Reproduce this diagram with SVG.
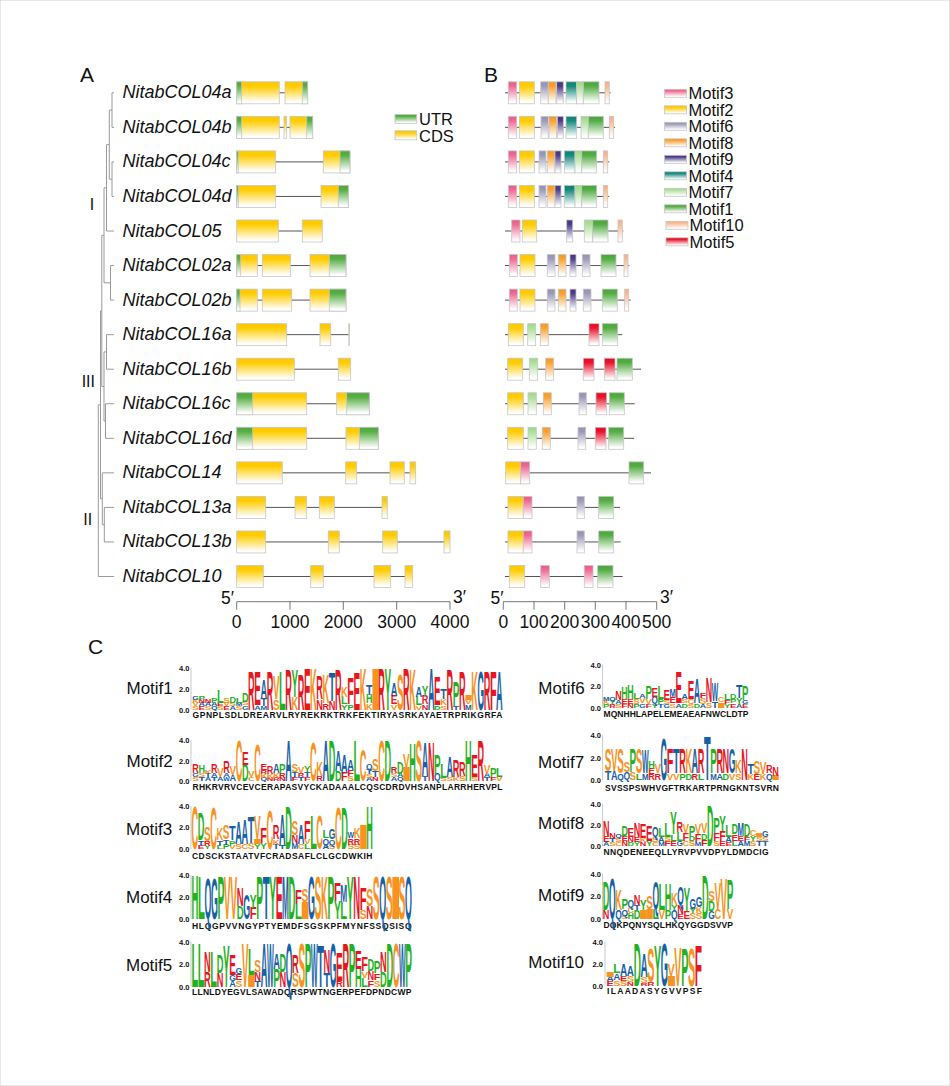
<svg xmlns="http://www.w3.org/2000/svg" width="950" height="1086" viewBox="0 0 950 1086">
<defs>
<style>
.t{font-family:"Liberation Sans",Arial,sans-serif;fill:#111}
.pn{font-size:21px}
.gn{font-size:18px;font-style:italic}
.lg{font-size:16.5px}
.ml{font-size:17px}
.ax{font-size:17.5px;text-anchor:middle}
.ap{font-size:17.5px}
.rn{font-size:16px;text-anchor:middle}
.tr{fill:none;stroke:#9a9a9a;stroke-width:1}
.in{fill:none;stroke:#555;stroke-width:1}
.axl{fill:none;stroke:#777;stroke-width:1}
.la{fill:none;stroke:#bbb;stroke-width:.8}
rect{stroke:#c6c6c6;stroke-width:.8}
.cds{fill:url(#gC)}.utr{fill:url(#gU)}
.m1{fill:url(#g1)}.m2{fill:url(#g2)}.m3{fill:url(#g3)}.m4{fill:url(#g4)}.m5{fill:url(#g5)}
.m6{fill:url(#g6)}.m7{fill:url(#g7)}.m8{fill:url(#g8)}.m9{fill:url(#g9)}.m10{fill:url(#g10)}
.lt{font-family:"Liberation Sans",Arial,sans-serif;font-weight:bold;font-size:15.3px}
.cr{fill:#e8161e}.cg{fill:#1fb323}.cb{fill:#1561a8}.co{fill:#f7931e}
.cs{font-family:"Liberation Sans",Arial,sans-serif;font-weight:bold;font-size:8.5px;fill:#111}
.yl{font-family:"Liberation Sans",Arial,sans-serif;font-weight:bold;font-size:7.5px;text-anchor:end;fill:#111}
</style>
<linearGradient id="gC" x1="0" y1="0" x2="0" y2="1"><stop offset="0" stop-color="#ffc800"/><stop offset=".2" stop-color="#ffcc00"/><stop offset=".92" stop-color="#fff"/></linearGradient>
<linearGradient id="gU" x1="0" y1="0" x2="0" y2="1"><stop offset="0" stop-color="#4ea83c"/><stop offset=".2" stop-color="#58ae46"/><stop offset=".92" stop-color="#fff"/></linearGradient>
<linearGradient id="g1" x1="0" y1="0" x2="0" y2="1"><stop offset="0" stop-color="#4aa63a"/><stop offset=".2" stop-color="#55ad45"/><stop offset=".92" stop-color="#fff"/></linearGradient>
<linearGradient id="g2" x1="0" y1="0" x2="0" y2="1"><stop offset="0" stop-color="#ffc800"/><stop offset=".2" stop-color="#ffcc00"/><stop offset=".92" stop-color="#fff"/></linearGradient>
<linearGradient id="g3" x1="0" y1="0" x2="0" y2="1"><stop offset="0" stop-color="#ec5a86"/><stop offset=".2" stop-color="#ef6a92"/><stop offset=".92" stop-color="#fff"/></linearGradient>
<linearGradient id="g4" x1="0" y1="0" x2="0" y2="1"><stop offset="0" stop-color="#0e8276"/><stop offset=".2" stop-color="#17897d"/><stop offset=".92" stop-color="#fff"/></linearGradient>
<linearGradient id="g5" x1="0" y1="0" x2="0" y2="1"><stop offset="0" stop-color="#e60a24"/><stop offset=".2" stop-color="#e8152d"/><stop offset=".92" stop-color="#fff"/></linearGradient>
<linearGradient id="g6" x1="0" y1="0" x2="0" y2="1"><stop offset="0" stop-color="#9491b2"/><stop offset=".2" stop-color="#9d9bb9"/><stop offset=".92" stop-color="#fff"/></linearGradient>
<linearGradient id="g7" x1="0" y1="0" x2="0" y2="1"><stop offset="0" stop-color="#a2d585"/><stop offset=".2" stop-color="#ade09a"/><stop offset=".92" stop-color="#fff"/></linearGradient>
<linearGradient id="g8" x1="0" y1="0" x2="0" y2="1"><stop offset="0" stop-color="#f7981f"/><stop offset=".2" stop-color="#f9a234"/><stop offset=".92" stop-color="#fff"/></linearGradient>
<linearGradient id="g9" x1="0" y1="0" x2="0" y2="1"><stop offset="0" stop-color="#45347f"/><stop offset=".2" stop-color="#4d3d8a"/><stop offset=".92" stop-color="#fff"/></linearGradient>
<linearGradient id="g10" x1="0" y1="0" x2="0" y2="1"><stop offset="0" stop-color="#f7ae80"/><stop offset=".2" stop-color="#f8b88e"/><stop offset=".92" stop-color="#fff"/></linearGradient>
<text id="kA" class="lt cb" x="-.2" textLength="6.6" lengthAdjust="spacingAndGlyphs">A</text>
<text id="kC" class="lt co" x="-.2" textLength="6.6" lengthAdjust="spacingAndGlyphs">C</text>
<text id="kD" class="lt cg" x="-.2" textLength="6.6" lengthAdjust="spacingAndGlyphs">D</text>
<text id="kE" class="lt cr" x="-.2" textLength="6.6" lengthAdjust="spacingAndGlyphs">E</text>
<text id="kF" class="lt cr" x="-.2" textLength="6.6" lengthAdjust="spacingAndGlyphs">F</text>
<text id="kG" class="lt cb" x="-.2" textLength="6.6" lengthAdjust="spacingAndGlyphs">G</text>
<text id="kH" class="lt cg" x="-.2" textLength="6.6" lengthAdjust="spacingAndGlyphs">H</text>
<text id="kI" class="lt co" x="-2.9" textLength="12.3" lengthAdjust="spacingAndGlyphs">I</text>
<text id="kK" class="lt co" x="-.2" textLength="6.6" lengthAdjust="spacingAndGlyphs">K</text>
<text id="kL" class="lt cg" x="-.2" textLength="6.6" lengthAdjust="spacingAndGlyphs">L</text>
<text id="kM" class="lt cb" x="-.2" textLength="6.6" lengthAdjust="spacingAndGlyphs">M</text>
<text id="kN" class="lt cr" x="-.2" textLength="6.6" lengthAdjust="spacingAndGlyphs">N</text>
<text id="kP" class="lt cg" x="-.2" textLength="6.6" lengthAdjust="spacingAndGlyphs">P</text>
<text id="kQ" class="lt cb" x="-.2" textLength="6.6" lengthAdjust="spacingAndGlyphs">Q</text>
<text id="kR" class="lt cr" x="-.2" textLength="6.6" lengthAdjust="spacingAndGlyphs">R</text>
<text id="kS" class="lt co" x="-.2" textLength="6.6" lengthAdjust="spacingAndGlyphs">S</text>
<text id="kT" class="lt cb" x="-.2" textLength="6.6" lengthAdjust="spacingAndGlyphs">T</text>
<text id="kV" class="lt co" x="-.2" textLength="6.6" lengthAdjust="spacingAndGlyphs">V</text>
<text id="kW" class="lt cb" x="-.2" textLength="6.6" lengthAdjust="spacingAndGlyphs">W</text>
<text id="kY" class="lt cg" x="-.2" textLength="6.6" lengthAdjust="spacingAndGlyphs">Y</text>
</defs>
<rect x="0" y="0" width="950" height="1086" fill="#fff" stroke="none"/>

<g id="labels" class="t">
<text class="pn" x="80" y="82">A</text>
<text class="pn" x="484" y="82">B</text>
<text class="pn" x="88" y="654">C</text>
<text class="rn" x="92" y="210">I</text>
<text class="rn" x="88.3" y="387">III</text>
<text class="rn" x="87.8" y="525">II</text>
</g>

<g id="connectors">
<path class="tr" d="M112 92.8H114M112 127.35H114M112 92.8V127.35M112 161.9H114M112 196.45H114M112 161.9V196.45M109.3 110.1H112M109.3 179.2H112M109.3 110.1V179.2M106.5 144.6H109.3M106.5 231H114M106.5 144.6V231M110.5 265.55H114M110.5 300.1H114M110.5 265.55V300.1M104 187.8H106.5M104 282.8H110.5M104 187.8V282.8M106.5 334.65H114M106.5 369.2H114M106.5 334.65V369.2M105.5 403.75H114M105.5 438.3H114M105.5 403.75V438.3M104 351.9H106.5M104 421H105.5M104 351.9V421M101.8 235.3H104M101.8 386.5H104M101.8 235.3V386.5M104.3 507.4H114M104.3 541.95H114M104.3 507.4V541.95M102.3 472.85H114M102.3 524.7H104.3M102.3 472.85V524.7M100.5 310.9H101.8M100.5 498.8H102.3M100.5 310.9V498.8M98.3 404.8H100.5M98.3 576.5H114M98.3 404.8V576.5"/>
</g>

<g id="legend-a" class="t">
<rect class="utr" x="395" y="114.5" width="21.7" height="9"/>
<rect class="cds" x="395" y="130.8" width="21.7" height="9"/>
<text class="lg" x="419" y="125">UTR</text>
<text class="lg" x="419" y="141.5">CDS</text>
</g>

<g id="legend-b" class="t">
<rect class="m3" x="664.5" y="89.3" width="22" height="8"/><text class="lg" x="688.5" y="99.2">Motif3</text>
<rect class="m2" x="664.5" y="105.8" width="22" height="8"/><text class="lg" x="688.5" y="115.7">Motif2</text>
<rect class="m6" x="664.5" y="122.3" width="22" height="8"/><text class="lg" x="688.5" y="132.2">Motif6</text>
<rect class="m8" x="664.5" y="138.8" width="22" height="8"/><text class="lg" x="688.5" y="148.7">Motif8</text>
<rect class="m9" x="664.5" y="155.3" width="22" height="8"/><text class="lg" x="688.5" y="165.2">Motif9</text>
<rect class="m4" x="664.5" y="171.8" width="22" height="8"/><text class="lg" x="688.5" y="181.7">Motif4</text>
<rect class="m7" x="664.5" y="188.3" width="22" height="8"/><text class="lg" x="688.5" y="198.2">Motif7</text>
<rect class="m1" x="664.5" y="204.8" width="22" height="8"/><text class="lg" x="688.5" y="214.7">Motif1</text>
<rect class="m10" x="666" y="221.3" width="22" height="8"/><text class="lg" x="689.5" y="231.2">Motif10</text>
<rect class="m5" x="666" y="237.8" width="22" height="8"/><text class="lg" x="689.5" y="247.7">Motif5</text>
</g>

<g id="NitabCOL04a" transform="translate(0,92.8)">
<text class="t gn" x="122.5" y="5.5">NitabCOL04a</text>
<path class="in" d="M236.7 0H307.7M505 0H610.7"/>
<rect class="cds" x="236.7" y="-11" width="42.6" height="22"/><rect class="cds" x="285" y="-11" width="22.7" height="22"/>
<rect class="utr" x="236.7" y="-11" width="5" height="22"/><rect class="utr" x="302.3" y="-11" width="5.4" height="22"/>
<rect class="m3" x="508.3" y="-11" width="8.4" height="22"/><rect class="m2" x="519.3" y="-11" width="15" height="22"/><rect class="m6" x="540.7" y="-11" width="7.6" height="22"/><rect class="m8" x="548.3" y="-11" width="7.7" height="22"/><rect class="m9" x="556.7" y="-11" width="6.6" height="22"/><rect class="m4" x="566" y="-11" width="10.7" height="22"/><rect class="m7" x="576.7" y="-11" width="6.6" height="22"/><rect class="m1" x="583.3" y="-11" width="15.7" height="22"/><rect class="m10" x="605" y="-11" width="4.3" height="22"/>
</g>
<g id="NitabCOL04b" transform="translate(0,127.35)">
<text class="t gn" x="122.5" y="5.5">NitabCOL04b</text>
<path class="in" d="M236.7 0H312.7M505 0H615"/>
<rect class="cds" x="236.7" y="-11" width="42.6" height="22"/><rect class="cds" x="284" y="-11" width="2.7" height="22"/><rect class="cds" x="290" y="-11" width="22.7" height="22"/>
<rect class="utr" x="236.7" y="-11" width="5" height="22"/><rect class="utr" x="306.7" y="-11" width="6" height="22"/>
<rect class="m3" x="508.3" y="-11" width="8.4" height="22"/><rect class="m2" x="519.3" y="-11" width="15" height="22"/><rect class="m6" x="541" y="-11" width="7.3" height="22"/><rect class="m8" x="549" y="-11" width="7.7" height="22"/><rect class="m9" x="557.3" y="-11" width="6" height="22"/><rect class="m4" x="566" y="-11" width="10.7" height="22"/><rect class="m7" x="581" y="-11" width="7.3" height="22"/><rect class="m1" x="588.3" y="-11" width="15" height="22"/><rect class="m10" x="609.3" y="-11" width="4.4" height="22"/>
</g>
<g id="NitabCOL04c" transform="translate(0,161.9)">
<text class="t gn" x="122.5" y="5.5">NitabCOL04c</text>
<path class="in" d="M236.7 0H350M505 0H609.3"/>
<rect class="cds" x="236.7" y="-11" width="39" height="22"/><rect class="cds" x="323.3" y="-11" width="26.7" height="22"/>
<rect class="utr" x="236.7" y="-11" width="1.6" height="22"/><rect class="utr" x="340" y="-11" width="10" height="22"/>
<rect class="m3" x="508.3" y="-11" width="8.4" height="22"/><rect class="m2" x="519.3" y="-11" width="15" height="22"/><rect class="m6" x="539" y="-11" width="7" height="22"/><rect class="m8" x="547.3" y="-11" width="7.7" height="22"/><rect class="m9" x="555" y="-11" width="6" height="22"/><rect class="m4" x="564.3" y="-11" width="10.7" height="22"/><rect class="m7" x="575" y="-11" width="6.7" height="22"/><rect class="m1" x="581.7" y="-11" width="15" height="22"/><rect class="m10" x="603.3" y="-11" width="4.4" height="22"/>
</g>
<g id="NitabCOL04d" transform="translate(0,196.45)">
<text class="t gn" x="122.5" y="5.5">NitabCOL04d</text>
<path class="in" d="M236.7 0H348.3M505 0H609.3"/>
<rect class="cds" x="236.7" y="-11" width="39" height="22"/><rect class="cds" x="321" y="-11" width="27.3" height="22"/>
<rect class="utr" x="236.7" y="-11" width="1.6" height="22"/><rect class="utr" x="338.3" y="-11" width="10" height="22"/>
<rect class="m3" x="508.3" y="-11" width="8.4" height="22"/><rect class="m2" x="519.3" y="-11" width="15" height="22"/><rect class="m6" x="539" y="-11" width="7" height="22"/><rect class="m8" x="547.3" y="-11" width="7.7" height="22"/><rect class="m9" x="555" y="-11" width="6" height="22"/><rect class="m4" x="564.3" y="-11" width="10.7" height="22"/><rect class="m7" x="575" y="-11" width="6.7" height="22"/><rect class="m1" x="581.7" y="-11" width="15" height="22"/><rect class="m10" x="603.3" y="-11" width="4.4" height="22"/>
</g>
<g id="NitabCOL05" transform="translate(0,231)">
<text class="t gn" x="122.5" y="5.5">NitabCOL05</text>
<path class="in" d="M236.7 0H322.3M505 0H623.3"/>
<rect class="cds" x="236.7" y="-11" width="41.6" height="22"/><rect class="cds" x="302.3" y="-11" width="20" height="22"/>
<rect class="m3" x="511.7" y="-11" width="8.3" height="22"/><rect class="m2" x="522.3" y="-11" width="14.4" height="22"/><rect class="m9" x="566.7" y="-11" width="6" height="22"/><rect class="m7" x="584.3" y="-11" width="8.4" height="22"/><rect class="m1" x="592.7" y="-11" width="15.3" height="22"/><rect class="m10" x="618" y="-11" width="4.3" height="22"/>
</g>
<g id="NitabCOL02a" transform="translate(0,265.55)">
<text class="t gn" x="122.5" y="5.5">NitabCOL02a</text>
<path class="in" d="M236.7 0H346M505 0H629.3"/>
<rect class="cds" x="236.7" y="-11" width="20.6" height="22"/><rect class="cds" x="262.3" y="-11" width="28.4" height="22"/><rect class="cds" x="310" y="-11" width="36" height="22"/>
<rect class="utr" x="236.7" y="-11" width="4" height="22"/><rect class="utr" x="329.3" y="-11" width="16.7" height="22"/>
<rect class="m3" x="509.3" y="-11" width="8" height="22"/><rect class="m2" x="520" y="-11" width="15" height="22"/><rect class="m6" x="547.3" y="-11" width="7.7" height="22"/><rect class="m8" x="558.3" y="-11" width="7.7" height="22"/><rect class="m9" x="570" y="-11" width="6" height="22"/><rect class="m6" x="582.3" y="-11" width="7.7" height="22"/><rect class="m1" x="601" y="-11" width="15" height="22"/><rect class="m10" x="624" y="-11" width="4" height="22"/>
</g>
<g id="NitabCOL02b" transform="translate(0,300.1)">
<text class="t gn" x="122.5" y="5.5">NitabCOL02b</text>
<path class="in" d="M236.7 0H346M505 0H630.7"/>
<rect class="cds" x="236.7" y="-11" width="20.6" height="22"/><rect class="cds" x="262.3" y="-11" width="29.4" height="22"/><rect class="cds" x="310" y="-11" width="36" height="22"/>
<rect class="utr" x="236.7" y="-11" width="3.3" height="22"/><rect class="utr" x="329.3" y="-11" width="16.7" height="22"/>
<rect class="m3" x="509.3" y="-11" width="8" height="22"/><rect class="m2" x="520" y="-11" width="15" height="22"/><rect class="m6" x="547.3" y="-11" width="7.7" height="22"/><rect class="m8" x="558.3" y="-11" width="7.7" height="22"/><rect class="m9" x="570" y="-11" width="6" height="22"/><rect class="m6" x="583.3" y="-11" width="7.7" height="22"/><rect class="m1" x="602.3" y="-11" width="15" height="22"/><rect class="m10" x="624.7" y="-11" width="4" height="22"/>
</g>
<g id="NitabCOL16a" transform="translate(0,334.65)">
<text class="t gn" x="122.5" y="5.5">NitabCOL16a</text>
<path class="in" d="M236.7 0H349.3M505 0H622.3"/>
<rect class="cds" x="236.7" y="-11" width="50" height="22"/><rect class="cds" x="320" y="-11" width="10.7" height="22"/><rect class="cds" x="348.8" y="-11" width=".8" height="22"/>
<rect class="m2" x="508.3" y="-11" width="15" height="22"/><rect class="m7" x="527.7" y="-11" width="8" height="22"/><rect class="m8" x="540.3" y="-11" width="8" height="22"/><rect class="m5" x="589" y="-11" width="10" height="22"/><rect class="m1" x="602.3" y="-11" width="15.4" height="22"/>
</g>
<g id="NitabCOL16b" transform="translate(0,369.2)">
<text class="t gn" x="122.5" y="5.5">NitabCOL16b</text>
<path class="in" d="M236.7 0H350.7M505 0H641"/>
<rect class="cds" x="236.7" y="-11" width="57.6" height="22"/><rect class="cds" x="338.3" y="-11" width="12.4" height="22"/>
<rect class="m2" x="507.7" y="-11" width="15" height="22"/><rect class="m7" x="529.3" y="-11" width="8.4" height="22"/><rect class="m8" x="545.7" y="-11" width="8" height="22"/><rect class="m5" x="583.3" y="-11" width="10.7" height="22"/><rect class="m5" x="604.3" y="-11" width="10.7" height="22"/><rect class="m1" x="617" y="-11" width="15.3" height="22"/>
</g>
<g id="NitabCOL16c" transform="translate(0,403.75)">
<text class="t gn" x="122.5" y="5.5">NitabCOL16c</text>
<path class="in" d="M236.7 0H369.3M505 0H634.7"/>
<rect class="cds" x="236.7" y="-11" width="70" height="22"/><rect class="cds" x="336.7" y="-11" width="32.6" height="22"/>
<rect class="utr" x="236.7" y="-11" width="16" height="22"/><rect class="utr" x="346.7" y="-11" width="22.6" height="22"/>
<rect class="m2" x="507.7" y="-11" width="15.6" height="22"/><rect class="m7" x="528" y="-11" width="8.3" height="22"/><rect class="m8" x="543.3" y="-11" width="8" height="22"/><rect class="m6" x="579" y="-11" width="7.3" height="22"/><rect class="m5" x="596" y="-11" width="10.7" height="22"/><rect class="m1" x="609.3" y="-11" width="15" height="22"/>
</g>
<g id="NitabCOL16d" transform="translate(0,438.3)">
<text class="t gn" x="122.5" y="5.5">NitabCOL16d</text>
<path class="in" d="M236.7 0H378.3M505 0H634"/>
<rect class="cds" x="236.7" y="-11" width="70" height="22"/><rect class="cds" x="346" y="-11" width="32.3" height="22"/>
<rect class="utr" x="236.7" y="-11" width="16" height="22"/><rect class="utr" x="359.3" y="-11" width="19" height="22"/>
<rect class="m2" x="507.7" y="-11" width="15.6" height="22"/><rect class="m7" x="528" y="-11" width="8.3" height="22"/><rect class="m8" x="542.3" y="-11" width="8" height="22"/><rect class="m6" x="578" y="-11" width="7.7" height="22"/><rect class="m5" x="595.3" y="-11" width="10.7" height="22"/><rect class="m1" x="608.7" y="-11" width="15" height="22"/>
</g>
<g id="NitabCOL14" transform="translate(0,472.85)">
<text class="t gn" x="122.5" y="5.5">NitabCOL14</text>
<path class="in" d="M236.7 0H415.7M505 0H651"/>
<rect class="cds" x="236.7" y="-11" width="45.6" height="22"/><rect class="cds" x="345.7" y="-11" width="11" height="22"/><rect class="cds" x="390" y="-11" width="14.3" height="22"/><rect class="cds" x="410" y="-11" width="5.7" height="22"/>
<rect class="m2" x="505.7" y="-11" width="15" height="22"/><rect class="m3" x="520.7" y="-11" width="9" height="22"/><rect class="m1" x="629" y="-11" width="14.7" height="22"/>
</g>
<g id="NitabCOL13a" transform="translate(0,507.4)">
<text class="t gn" x="122.5" y="5.5">NitabCOL13a</text>
<path class="in" d="M236.7 0H387.3M505 0H620"/>
<rect class="cds" x="236.7" y="-11" width="29" height="22"/><rect class="cds" x="295" y="-11" width="11.7" height="22"/><rect class="cds" x="319.3" y="-11" width="15" height="22"/><rect class="cds" x="382" y="-11" width="5.3" height="22"/>
<rect class="m2" x="508" y="-11" width="15.3" height="22"/><rect class="m3" x="523.3" y="-11" width="8.7" height="22"/><rect class="m6" x="577" y="-11" width="7.3" height="22"/><rect class="m1" x="598.7" y="-11" width="15" height="22"/>
</g>
<g id="NitabCOL13b" transform="translate(0,541.95)">
<text class="t gn" x="122.5" y="5.5">NitabCOL13b</text>
<path class="in" d="M236.7 0H450M505 0H620.7"/>
<rect class="cds" x="236.7" y="-11" width="29" height="22"/><rect class="cds" x="328.3" y="-11" width="11" height="22"/><rect class="cds" x="382.7" y="-11" width="14.6" height="22"/><rect class="cds" x="444" y="-11" width="6" height="22"/>
<rect class="m2" x="508" y="-11" width="15.3" height="22"/><rect class="m3" x="523.3" y="-11" width="8.7" height="22"/><rect class="m6" x="577" y="-11" width="7.3" height="22"/><rect class="m1" x="598.7" y="-11" width="15" height="22"/>
</g>
<g id="NitabCOL10" transform="translate(0,576.5)">
<text class="t gn" x="122.5" y="5.5">NitabCOL10</text>
<path class="in" d="M236.7 0H412.7M505 0H622.7"/>
<rect class="cds" x="236.7" y="-11" width="26.6" height="22"/><rect class="cds" x="310.7" y="-11" width="12.6" height="22"/><rect class="cds" x="374" y="-11" width="16.7" height="22"/><rect class="cds" x="405" y="-11" width="7.7" height="22"/>
<rect class="m2" x="509.3" y="-11" width="15.4" height="22"/><rect class="m3" x="540.7" y="-11" width="8.6" height="22"/><rect class="m3" x="584.3" y="-11" width="8.7" height="22"/><rect class="m1" x="597.7" y="-11" width="15.3" height="22"/>
</g>

<g id="axes" class="t">
<path class="axl" d="M236.7 601.7H450M236.7 601.7v8M290 601.7v8M343.3 601.7v8M396.7 601.7v8M450 601.7v8M503.3 601.7H656.7M503.3 601.7v8M534 601.7v8M564.7 601.7v8M595.3 601.7v8M626 601.7v8M656.7 601.7v8"/>
<text class="ax" x="236.7" y="628">0</text><text class="ax" x="290" y="628">1000</text><text class="ax" x="343.3" y="628">2000</text><text class="ax" x="396.7" y="628">3000</text><text class="ax" x="450" y="628">4000</text>
<text class="ax" x="503.3" y="628">0</text><text class="ax" x="534" y="628">100</text><text class="ax" x="564.7" y="628">200</text><text class="ax" x="595.3" y="628">300</text><text class="ax" x="626" y="628">400</text><text class="ax" x="656.7" y="628">500</text>
<text class="ap" x="221" y="604">5′</text><text class="ap" x="453" y="603">3′</text>
<text class="ap" x="490.5" y="604">5′</text><text class="ap" x="660" y="603">3′</text>
</g>

<g id="logo-axes">
<path class="la" d="M191 667.5V709.5M191 740V781M191 805.8V849M191 875V919M191 941.5V986.5M602.6 664.7V707.5M602.6 735.2V780M602.6 804V846M602.6 873.8V919M605 941.5V985.5"/>
<text class="yl" x="189.5" y="670.5">4.0</text><text class="yl" x="189.5" y="691.5">2.0</text><text class="yl" x="189.5" y="712.5">0.0</text>
<text class="yl" x="189.5" y="743">4.0</text><text class="yl" x="189.5" y="763.5">2.0</text><text class="yl" x="189.5" y="784">0.0</text>
<text class="yl" x="189.5" y="808.8">4.0</text><text class="yl" x="189.5" y="830.4">2.0</text><text class="yl" x="189.5" y="852">0.0</text>
<text class="yl" x="189.5" y="878">4.0</text><text class="yl" x="189.5" y="900">2.0</text><text class="yl" x="189.5" y="922">0.0</text>
<text class="yl" x="189.5" y="944.5">4.0</text><text class="yl" x="189.5" y="967">2.0</text><text class="yl" x="189.5" y="989.5">0.0</text>
<text class="yl" x="601" y="667.7">4.0</text><text class="yl" x="601" y="689.1">2.0</text><text class="yl" x="601" y="710.5">0.0</text>
<text class="yl" x="601" y="738.2">4.0</text><text class="yl" x="601" y="760.6">2.0</text><text class="yl" x="601" y="783">0.0</text>
<text class="yl" x="601" y="807">4.0</text><text class="yl" x="601" y="828">2.0</text><text class="yl" x="601" y="849">0.0</text>
<text class="yl" x="601" y="876.8">4.0</text><text class="yl" x="601" y="899.4">2.0</text><text class="yl" x="601" y="922">0.0</text>
<text class="yl" x="603" y="944.5">4.0</text><text class="yl" x="603" y="966.5">2.0</text><text class="yl" x="603" y="988.5">0.0</text>
</g>

<g id="motif-labels" class="t">
<text class="ml" x="126.5" y="694">Motif1</text>
<text class="ml" x="126.5" y="767">Motif2</text>
<text class="ml" x="126" y="835">Motif3</text>
<text class="ml" x="126" y="903">Motif4</text>
<text class="ml" x="126" y="971">Motif5</text>
<text class="ml" x="538.3" y="694">Motif6</text>
<text class="ml" x="538" y="768">Motif7</text>
<text class="ml" x="538" y="829">Motif8</text>
<text class="ml" x="538" y="901">Motif9</text>
<text class="ml" x="528.3" y="968">Motif10</text>
</g>

<g id="consensus">
<text class="cs" x="192.5" y="717.5" textLength="310" lengthAdjust="spacing">GPNPLSDLDREARVLRYREKRKTRKFEKTIRYASRKAYAETRPRIKGRFA</text>
<text class="cs" x="192.5" y="790" textLength="310" lengthAdjust="spacing">RHKRVRVCEVCERAPASVYCKADAAALCQSCDRDVHSANPLARRHERVPL</text>
<text class="cs" x="192" y="858.5" textLength="180.5" lengthAdjust="spacing">CDSCKSTAATVFCRADSAFLCLGCDWKIH</text>
<text class="cs" x="192" y="928.5" textLength="219.5" lengthAdjust="spacing">HLQGPVVNGYPTYEMDFSGSKPFMYNFSSQSISQ</text>
<text class="cs" x="192" y="994.5" textLength="219.5" lengthAdjust="spacing">LLNLDYEGVLSAWADQRSPWTNGERPEFDPNDCWP</text>
<text class="cs" x="603.5" y="716.5" textLength="145" lengthAdjust="spacing">MQNHHLAPELEMEAEAFNWCLDTP</text>
<text class="cs" x="605" y="791" textLength="174" lengthAdjust="spacing">SVSSPSWHVGFTRKARTPRNGKNTSVRN</text>
<text class="cs" x="603.5" y="855" textLength="165" lengthAdjust="spacing">NNQDENEEQLLYRVPVVDPYLDMDCIG</text>
<text class="cs" x="603.5" y="927.5" textLength="129.5" lengthAdjust="spacing">DQKPQNYSQLHKQYGGDSVVP</text>
<text class="cs" x="607" y="994" textLength="95" lengthAdjust="spacing">ILAADASYGVVPSF</text>
</g>

<g id="logo-motif1" transform="translate(192.5,709.5)">
<use href="#kS" transform="scale(1,.3)"/><use href="#kV" transform="translate(0,-3.15) scale(1,.3)"/><use href="#kK" transform="translate(0,-6.3) scale(1,.3)"/><use href="#kG" transform="translate(0,-9.45) scale(1,.35)"/>
<use href="#kE" transform="translate(6.2,0) scale(1,.3)"/><use href="#kA" transform="translate(6.2,-3.15) scale(1,.3)"/><use href="#kN" transform="translate(6.2,-6.3) scale(1,.3)"/><use href="#kP" transform="translate(6.2,-9.45) scale(1,.4)"/>
<use href="#kS" transform="translate(12.4,0) scale(1,.3)"/><use href="#kA" transform="translate(12.4,-3.15) scale(1,.3)"/><use href="#kN" transform="translate(12.4,-6.3) scale(1,.35)"/>
<use href="#kQ" transform="translate(18.6,0) scale(1,.3)"/><use href="#kA" transform="translate(18.6,-3.15) scale(1,.3)"/><use href="#kP" transform="translate(18.6,-6.3) scale(1,.5)"/>
<use href="#kS" transform="translate(24.8,0) scale(1,.3)"/><use href="#kE" transform="translate(24.8,-3.15) scale(1,.3)"/><use href="#kL" transform="translate(24.8,-6.3) scale(1,1.2)"/>
<use href="#kE" transform="translate(31,0) scale(1,.3)"/><use href="#kV" transform="translate(31,-3.15) scale(1,.3)"/><use href="#kS" transform="translate(31,-6.3) scale(1,.5)"/>
<use href="#kA" transform="translate(37.2,0) scale(1,.3)"/><use href="#kS" transform="translate(37.2,-3.15) scale(1,.3)"/><use href="#kD" transform="translate(37.2,-6.3) scale(1,.6)"/>
<use href="#kS" transform="translate(43.4,0) scale(1,.3)"/><use href="#kM" transform="translate(43.4,-3.15) scale(1,.3)"/><use href="#kL" transform="translate(43.4,-6.3) scale(1,.5)"/>
<use href="#kG" transform="translate(49.6,0) scale(1,.4)"/><use href="#kS" transform="translate(49.6,-4.2) scale(1,.3)"/><use href="#kD" transform="translate(49.6,-7.35) scale(1,.8)"/>
<use href="#kR" transform="translate(55.8,0) scale(1,3.6)"/>
<use href="#kA" transform="translate(62,0) scale(1,.4)"/><use href="#kE" transform="translate(62,-4.2) scale(1,3.1)"/>
<use href="#kM" transform="translate(68.2,0) scale(1,.3)"/><use href="#kT" transform="translate(68.2,-3.15) scale(1,.7)"/><use href="#kA" transform="translate(68.2,-10.5) scale(1,1.8)"/>
<use href="#kR" transform="translate(74.4,0) scale(1,3.6)"/>
<use href="#kS" transform="translate(80.6,0) scale(1,1)"/><use href="#kV" transform="translate(80.6,-10.5) scale(1,2.2)"/>
<use href="#kL" transform="translate(86.8,0) scale(1,3.6)"/>
<use href="#kR" transform="translate(93,0) scale(1,3.7)"/>
<use href="#kK" transform="translate(99.2,0) scale(1,1.2)"/><use href="#kY" transform="translate(99.2,-12.6) scale(1,2.5)"/>
<use href="#kR" transform="translate(105.4,0) scale(1,3.3)"/>
<use href="#kE" transform="translate(111.6,0) scale(1,3.9)"/>
<use href="#kK" transform="translate(117.8,0) scale(1,3.9)"/>
<use href="#kN" transform="translate(124,0) scale(1,1)"/><use href="#kR" transform="translate(124,-10.5) scale(1,2.2)"/>
<use href="#kR" transform="translate(130.2,0) scale(1,.6)"/><use href="#kK" transform="translate(130.2,-6.3) scale(1,2.7)"/>
<use href="#kN" transform="translate(136.4,0) scale(1,.8)"/><use href="#kT" transform="translate(136.4,-8.4) scale(1,2.6)"/>
<use href="#kR" transform="translate(142.6,0) scale(1,3.8)"/>
<use href="#kY" transform="translate(148.8,0) scale(1,.5)"/><use href="#kL" transform="translate(148.8,-5.25) scale(1,.7)"/><use href="#kK" transform="translate(148.8,-12.6) scale(1,1)"/>
<use href="#kP" transform="translate(155,0) scale(1,.5)"/><use href="#kF" transform="translate(155,-5.25) scale(1,2.4)"/>
<use href="#kE" transform="translate(161.2,0) scale(1,3.5)"/>
<use href="#kK" transform="translate(167.4,0) scale(1,3.9)"/>
<use href="#kK" transform="translate(173.6,0) scale(1,.6)"/><use href="#kH" transform="translate(173.6,-6.3) scale(1,.8)"/><use href="#kT" transform="translate(173.6,-14.7) scale(1,1)"/>
<use href="#kI" transform="translate(179.8,0) scale(1,3.9)"/>
<use href="#kR" transform="translate(186,0) scale(1,3.9)"/>
<use href="#kY" transform="translate(192.2,0) scale(1,3.9)"/>
<use href="#kV" transform="translate(198.4,0) scale(1,.5)"/><use href="#kE" transform="translate(198.4,-5.25) scale(1,.8)"/><use href="#kA" transform="translate(198.4,-13.65) scale(1,1.2)"/>
<use href="#kS" transform="translate(204.6,0) scale(1,3.3)"/>
<use href="#kR" transform="translate(210.8,0) scale(1,3.9)"/>
<use href="#kK" transform="translate(217,0) scale(1,3.7)"/>
<use href="#kV" transform="translate(223.2,0) scale(1,.4)"/><use href="#kL" transform="translate(223.2,-4.2) scale(1,.8)"/><use href="#kA" transform="translate(223.2,-12.6) scale(1,1)"/>
<use href="#kN" transform="translate(229.4,0) scale(1,.5)"/><use href="#kR" transform="translate(229.4,-5.25) scale(1,.8)"/><use href="#kY" transform="translate(229.4,-13.65) scale(1,1)"/>
<use href="#kA" transform="translate(235.6,0) scale(1,3.9)"/>
<use href="#kD" transform="translate(241.8,0) scale(1,.4)"/><use href="#kE" transform="translate(241.8,-4.2) scale(1,2.6)"/>
<use href="#kS" transform="translate(248,0) scale(1,.4)"/><use href="#kK" transform="translate(248,-4.2) scale(1,.6)"/><use href="#kT" transform="translate(248,-10.5) scale(1,1)"/>
<use href="#kR" transform="translate(254.2,0) scale(1,3.7)"/>
<use href="#kT" transform="translate(260.4,0) scale(1,.3)"/><use href="#kP" transform="translate(260.4,-3.15) scale(1,2.3)"/>
<use href="#kR" transform="translate(266.6,0) scale(1,3.6)"/>
<use href="#kM" transform="translate(272.8,0) scale(1,.5)"/><use href="#kV" transform="translate(272.8,-5.25) scale(1,.4)"/><use href="#kI" transform="translate(272.8,-9.45) scale(1,.5)"/>
<use href="#kK" transform="translate(279,0) scale(1,3.6)"/>
<use href="#kG" transform="translate(285.2,0) scale(1,3.6)"/>
<use href="#kR" transform="translate(291.4,0) scale(1,3.6)"/>
<use href="#kF" transform="translate(297.6,0) scale(1,3.6)"/>
<use href="#kA" transform="translate(303.8,0) scale(1,3.6)"/>
</g>

<g id="logo-motif2" transform="translate(192.5,781) scale(1,.976)">
<use href="#kS" transform="scale(1,.4)"/><use href="#kG" transform="translate(0,-4.2) scale(1,.4)"/><use href="#kR" transform="translate(0,-8.4) scale(1,.8)"/>
<use href="#kT" transform="translate(6.2,0) scale(1,.4)"/><use href="#kS" transform="translate(6.2,-4.2) scale(1,.4)"/><use href="#kH" transform="translate(6.2,-8.4) scale(1,.7)"/>
<use href="#kA" transform="translate(12.4,0) scale(1,.4)"/><use href="#kT" transform="translate(12.4,-4.2) scale(1,.3)"/><use href="#kK" transform="translate(12.4,-7.35) scale(1,.4)"/>
<use href="#kT" transform="translate(18.6,0) scale(1,.4)"/><use href="#kA" transform="translate(18.6,-4.2) scale(1,.4)"/><use href="#kR" transform="translate(18.6,-8.4) scale(1,.9)"/>
<use href="#kA" transform="translate(24.8,0) scale(1,.4)"/><use href="#kV" transform="translate(24.8,-4.2) scale(1,.9)"/>
<use href="#kW" transform="translate(31,0) scale(1,.4)"/><use href="#kA" transform="translate(31,-4.2) scale(1,.4)"/><use href="#kR" transform="translate(31,-8.4) scale(1,1.1)"/>
<use href="#kA" transform="translate(37.2,0) scale(1,.6)"/><use href="#kV" transform="translate(37.2,-6.3) scale(1,.8)"/>
<use href="#kC" transform="translate(43.4,0) scale(1,3.8)"/>
<use href="#kD" transform="translate(49.6,0) scale(1,1.6)"/><use href="#kE" transform="translate(49.6,-16.8) scale(1,1.2)"/>
<use href="#kC" transform="translate(55.8,0) scale(1,.4)"/><use href="#kV" transform="translate(55.8,-4.2) scale(1,.6)"/>
<use href="#kC" transform="translate(62,0) scale(1,3.5)"/>
<use href="#kQ" transform="translate(68.2,0) scale(1,.3)"/><use href="#kK" transform="translate(68.2,-3.15) scale(1,.4)"/><use href="#kR" transform="translate(68.2,-7.35) scale(1,.4)"/><use href="#kE" transform="translate(68.2,-11.55) scale(1,.6)"/>
<use href="#kN" transform="translate(74.4,0) scale(1,.3)"/><use href="#kK" transform="translate(74.4,-3.15) scale(1,.4)"/><use href="#kR" transform="translate(74.4,-7.35) scale(1,.7)"/>
<use href="#kR" transform="translate(80.6,0) scale(1,.3)"/><use href="#kK" transform="translate(80.6,-3.15) scale(1,.5)"/><use href="#kA" transform="translate(80.6,-8.4) scale(1,.8)"/>
<use href="#kN" transform="translate(86.8,0) scale(1,.3)"/><use href="#kR" transform="translate(86.8,-3.15) scale(1,.5)"/><use href="#kP" transform="translate(86.8,-8.4) scale(1,.9)"/>
<use href="#kA" transform="translate(93,0) scale(1,3.8)"/>
<use href="#kF" transform="translate(99.2,0) scale(1,.4)"/><use href="#kT" transform="translate(99.2,-4.2) scale(1,.5)"/><use href="#kS" transform="translate(99.2,-9.45) scale(1,.7)"/>
<use href="#kT" transform="translate(105.4,0) scale(1,.4)"/><use href="#kR" transform="translate(105.4,-4.2) scale(1,.4)"/><use href="#kV" transform="translate(105.4,-8.4) scale(1,.6)"/>
<use href="#kF" transform="translate(111.6,0) scale(1,.4)"/><use href="#kT" transform="translate(111.6,-4.2) scale(1,.5)"/><use href="#kY" transform="translate(111.6,-9.45) scale(1,.6)"/>
<use href="#kC" transform="translate(117.8,0) scale(1,3.7)"/>
<use href="#kR" transform="translate(124,0) scale(1,.5)"/><use href="#kK" transform="translate(124,-5.25) scale(1,1.3)"/>
<use href="#kA" transform="translate(130.2,0) scale(1,3.8)"/>
<use href="#kD" transform="translate(136.4,0) scale(1,3.9)"/>
<use href="#kD" transform="translate(142.6,0) scale(1,1)"/><use href="#kA" transform="translate(142.6,-10.5) scale(1,2)"/>
<use href="#kF" transform="translate(148.8,0) scale(1,.8)"/><use href="#kA" transform="translate(148.8,-8.4) scale(1,1.7)"/>
<use href="#kS" transform="translate(155,0) scale(1,.5)"/><use href="#kF" transform="translate(155,-5.25) scale(1,.6)"/><use href="#kA" transform="translate(155,-11.55) scale(1,1)"/>
<use href="#kL" transform="translate(161.2,0) scale(1,3.8)"/>
<use href="#kC" transform="translate(167.4,0) scale(1,3)"/>
<use href="#kA" transform="translate(173.6,0) scale(1,.3)"/><use href="#kS" transform="translate(173.6,-3.15) scale(1,.4)"/><use href="#kT" transform="translate(173.6,-7.35) scale(1,.5)"/><use href="#kQ" transform="translate(173.6,-12.6) scale(1,.5)"/>
<use href="#kN" transform="translate(179.8,0) scale(1,.4)"/><use href="#kT" transform="translate(179.8,-4.2) scale(1,.6)"/><use href="#kS" transform="translate(179.8,-10.5) scale(1,1.1)"/>
<use href="#kC" transform="translate(186,0) scale(1,3.9)"/>
<use href="#kD" transform="translate(192.2,0) scale(1,3.8)"/>
<use href="#kA" transform="translate(198.4,0) scale(1,.4)"/><use href="#kS" transform="translate(198.4,-4.2) scale(1,.4)"/><use href="#kR" transform="translate(198.4,-8.4) scale(1,.6)"/>
<use href="#kQ" transform="translate(204.6,0) scale(1,.4)"/><use href="#kA" transform="translate(204.6,-4.2) scale(1,.3)"/><use href="#kD" transform="translate(204.6,-7.35) scale(1,1.1)"/>
<use href="#kI" transform="translate(210.8,0) scale(1,1.3)"/><use href="#kV" transform="translate(210.8,-13.65) scale(1,1.3)"/>
<use href="#kH" transform="translate(217,0) scale(1,3.6)"/>
<use href="#kS" transform="translate(223.2,0) scale(1,3.8)"/>
<use href="#kT" transform="translate(229.4,0) scale(1,.5)"/><use href="#kA" transform="translate(229.4,-5.25) scale(1,3.2)"/>
<use href="#kN" transform="translate(235.6,0) scale(1,3.7)"/>
<use href="#kQ" transform="translate(241.8,0) scale(1,.7)"/><use href="#kP" transform="translate(241.8,-7.35) scale(1,1.9)"/>
<use href="#kS" transform="translate(248,0) scale(1,.3)"/><use href="#kL" transform="translate(248,-3.15) scale(1,1.3)"/>
<use href="#kS" transform="translate(254.2,0) scale(1,.4)"/><use href="#kA" transform="translate(254.2,-4.2) scale(1,2)"/>
<use href="#kK" transform="translate(260.4,0) scale(1,.4)"/><use href="#kR" transform="translate(260.4,-4.2) scale(1,1.6)"/>
<use href="#kS" transform="translate(266.6,0) scale(1,.5)"/><use href="#kR" transform="translate(266.6,-5.25) scale(1,1.4)"/>
<use href="#kH" transform="translate(272.8,0) scale(1,3.8)"/>
<use href="#kS" transform="translate(279,0) scale(1,.4)"/><use href="#kE" transform="translate(279,-4.2) scale(1,2.1)"/>
<use href="#kR" transform="translate(285.2,0) scale(1,3.8)"/>
<use href="#kT" transform="translate(291.4,0) scale(1,.4)"/><use href="#kA" transform="translate(291.4,-4.2) scale(1,.3)"/><use href="#kV" transform="translate(291.4,-7.35) scale(1,.8)"/>
<use href="#kF" transform="translate(297.6,0) scale(1,.4)"/><use href="#kP" transform="translate(297.6,-4.2) scale(1,.9)"/>
<use href="#kV" transform="translate(303.8,0) scale(1,.4)"/><use href="#kL" transform="translate(303.8,-4.2) scale(1,.8)"/>
</g>

<g id="logo-motif3" transform="translate(191.7,849) scale(1.007,1.03)">
<use href="#kC" transform="scale(1,3.9)"/>
<use href="#kE" transform="translate(6.2,0) scale(1,.3)"/><use href="#kT" transform="translate(6.2,-3.15) scale(1,.5)"/><use href="#kD" transform="translate(6.2,-8.4) scale(1,2.5)"/>
<use href="#kY" transform="translate(12.4,0) scale(1,.3)"/><use href="#kR" transform="translate(12.4,-3.15) scale(1,.4)"/><use href="#kS" transform="translate(12.4,-7.35) scale(1,1.3)"/>
<use href="#kC" transform="translate(18.6,0) scale(1,3.8)"/>
<use href="#kL" transform="translate(24.8,0) scale(1,.3)"/><use href="#kT" transform="translate(24.8,-3.15) scale(1,.5)"/><use href="#kK" transform="translate(24.8,-8.4) scale(1,1)"/>
<use href="#kP" transform="translate(31,0) scale(1,.4)"/><use href="#kT" transform="translate(31,-4.2) scale(1,.5)"/><use href="#kS" transform="translate(31,-9.45) scale(1,1.3)"/>
<use href="#kV" transform="translate(37.2,0) scale(1,.3)"/><use href="#kP" transform="translate(37.2,-3.15) scale(1,.5)"/><use href="#kT" transform="translate(37.2,-8.4) scale(1,1.3)"/>
<use href="#kS" transform="translate(43.4,0) scale(1,.5)"/><use href="#kA" transform="translate(43.4,-5.25) scale(1,2)"/>
<use href="#kC" transform="translate(49.6,0) scale(1,.5)"/><use href="#kA" transform="translate(49.6,-5.25) scale(1,2.2)"/>
<use href="#kS" transform="translate(55.8,0) scale(1,.6)"/><use href="#kT" transform="translate(55.8,-6.3) scale(1,2.4)"/>
<use href="#kY" transform="translate(62,0) scale(1,.5)"/><use href="#kI" transform="translate(62,-5.25) scale(1,.4)"/><use href="#kV" transform="translate(62,-9.45) scale(1,2.1)"/>
<use href="#kY" transform="translate(68.2,0) scale(1,.6)"/><use href="#kF" transform="translate(68.2,-6.3) scale(1,1.4)"/>
<use href="#kC" transform="translate(74.4,0) scale(1,3.5)"/>
<use href="#kT" transform="translate(80.6,0) scale(1,.4)"/><use href="#kK" transform="translate(80.6,-4.2) scale(1,.5)"/><use href="#kR" transform="translate(80.6,-9.45) scale(1,1.3)"/>
<use href="#kT" transform="translate(86.8,0) scale(1,.3)"/><use href="#kA" transform="translate(86.8,-3.15) scale(1,2.8)"/>
<use href="#kD" transform="translate(93,0) scale(1,3.9)"/>
<use href="#kM" transform="translate(99.2,0) scale(1,.6)"/><use href="#kN" transform="translate(99.2,-6.3) scale(1,.7)"/><use href="#kS" transform="translate(99.2,-13.65) scale(1,1.3)"/>
<use href="#kC" transform="translate(105.4,0) scale(1,.5)"/><use href="#kA" transform="translate(105.4,-5.25) scale(1,1.8)"/>
<use href="#kL" transform="translate(111.6,0) scale(1,.5)"/><use href="#kV" transform="translate(111.6,-5.25) scale(1,.4)"/><use href="#kF" transform="translate(111.6,-9.45) scale(1,1.6)"/>
<use href="#kL" transform="translate(117.8,0) scale(1,3)"/>
<use href="#kC" transform="translate(124,0) scale(1,3)"/>
<use href="#kA" transform="translate(130.2,0) scale(1,.4)"/><use href="#kQ" transform="translate(130.2,-4.2) scale(1,.6)"/><use href="#kL" transform="translate(130.2,-10.5) scale(1,.7)"/>
<use href="#kS" transform="translate(136.4,0) scale(1,.4)"/><use href="#kQ" transform="translate(136.4,-4.2) scale(1,.5)"/><use href="#kG" transform="translate(136.4,-9.45) scale(1,.9)"/>
<use href="#kC" transform="translate(142.6,0) scale(1,3.8)"/>
<use href="#kD" transform="translate(148.8,0) scale(1,3.7)"/>
<use href="#kS" transform="translate(155,0) scale(1,.4)"/><use href="#kR" transform="translate(155,-4.2) scale(1,.6)"/><use href="#kW" transform="translate(155,-10.5) scale(1,.6)"/>
<use href="#kS" transform="translate(161.2,0) scale(1,.4)"/><use href="#kR" transform="translate(161.2,-4.2) scale(1,.6)"/><use href="#kK" transform="translate(161.2,-10.5) scale(1,.9)"/>
<use href="#kI" transform="translate(167.4,0) scale(1,2.2)"/>
<use href="#kH" transform="translate(173.6,0) scale(1,3.9)"/>
</g>

<g id="logo-motif4" transform="translate(191.7,919) scale(1.044,1.048)">
<use href="#kH" transform="scale(1,3.9)"/>
<use href="#kL" transform="translate(6.2,0) scale(1,3.8)"/>
<use href="#kQ" transform="translate(12.4,0) scale(1,3.6)"/>
<use href="#kG" transform="translate(18.6,0) scale(1,3.6)"/>
<use href="#kP" transform="translate(24.8,0) scale(1,3.8)"/>
<use href="#kV" transform="translate(31,0) scale(1,3.8)"/>
<use href="#kV" transform="translate(37.2,0) scale(1,3.8)"/>
<use href="#kD" transform="translate(43.4,0) scale(1,1.2)"/><use href="#kN" transform="translate(43.4,-12.6) scale(1,1.6)"/>
<use href="#kG" transform="translate(49.6,0) scale(1,2.2)"/>
<use href="#kF" transform="translate(55.8,0) scale(1,1)"/><use href="#kY" transform="translate(55.8,-10.5) scale(1,1.2)"/>
<use href="#kP" transform="translate(62,0) scale(1,3.8)"/>
<use href="#kT" transform="translate(68.2,0) scale(1,3.8)"/>
<use href="#kY" transform="translate(74.4,0) scale(1,3.8)"/>
<use href="#kE" transform="translate(80.6,0) scale(1,3.8)"/>
<use href="#kM" transform="translate(86.8,0) scale(1,3.8)"/>
<use href="#kD" transform="translate(93,0) scale(1,3.8)"/>
<use href="#kL" transform="translate(99.2,0) scale(1,1.4)"/><use href="#kF" transform="translate(99.2,-14.7) scale(1,1.3)"/>
<use href="#kI" transform="translate(105.4,0) scale(1,1.5)"/><use href="#kS" transform="translate(105.4,-15.75) scale(1,1.1)"/>
<use href="#kG" transform="translate(111.6,0) scale(1,3.8)"/>
<use href="#kS" transform="translate(117.8,0) scale(1,3.8)"/>
<use href="#kK" transform="translate(124,0) scale(1,3.8)"/>
<use href="#kP" transform="translate(130.2,0) scale(1,3.8)"/>
<use href="#kY" transform="translate(136.4,0) scale(1,1.6)"/><use href="#kF" transform="translate(136.4,-16.8) scale(1,1.6)"/>
<use href="#kL" transform="translate(142.6,0) scale(1,1.5)"/><use href="#kM" transform="translate(142.6,-15.75) scale(1,1.5)"/>
<use href="#kY" transform="translate(148.8,0) scale(1,3.8)"/>
<use href="#kN" transform="translate(155,0) scale(1,3.8)"/>
<use href="#kS" transform="translate(161.2,0) scale(1,.8)"/><use href="#kF" transform="translate(161.2,-8.4) scale(1,2)"/>
<use href="#kN" transform="translate(167.4,0) scale(1,1.2)"/><use href="#kS" transform="translate(167.4,-12.6) scale(1,1.5)"/>
<use href="#kS" transform="translate(173.6,0) scale(1,3.8)"/>
<use href="#kQ" transform="translate(179.8,0) scale(1,3.8)"/>
<use href="#kS" transform="translate(186,0) scale(1,3.8)"/>
<use href="#kI" transform="translate(192.2,0) scale(1,3.8)"/>
<use href="#kS" transform="translate(198.4,0) scale(1,3.8)"/>
<use href="#kQ" transform="translate(204.6,0) scale(1,3.8)"/>
</g>

<g id="logo-motif5" transform="translate(191.7,986.5) scale(1.014,1.07)">
<use href="#kL" transform="scale(1,3.9)"/>
<use href="#kL" transform="translate(6.2,0) scale(1,3.9)"/>
<use href="#kR" transform="translate(12.4,0) scale(1,1.3)"/><use href="#kN" transform="translate(12.4,-13.65) scale(1,1.8)"/>
<use href="#kL" transform="translate(18.6,0) scale(1,3)"/>
<use href="#kN" transform="translate(24.8,0) scale(1,1.2)"/><use href="#kD" transform="translate(24.8,-12.6) scale(1,1.6)"/>
<use href="#kY" transform="translate(31,0) scale(1,3.6)"/>
<use href="#kA" transform="translate(37.2,0) scale(1,.5)"/><use href="#kG" transform="translate(37.2,-5.25) scale(1,.5)"/><use href="#kE" transform="translate(37.2,-10.5) scale(1,1.8)"/>
<use href="#kS" transform="translate(43.4,0) scale(1,.6)"/><use href="#kE" transform="translate(43.4,-6.3) scale(1,.5)"/><use href="#kG" transform="translate(43.4,-11.55) scale(1,.5)"/>
<use href="#kV" transform="translate(49.6,0) scale(1,3.8)"/>
<use href="#kI" transform="translate(55.8,0) scale(1,1)"/><use href="#kL" transform="translate(55.8,-10.5) scale(1,2.2)"/>
<use href="#kT" transform="translate(62,0) scale(1,.5)"/><use href="#kN" transform="translate(62,-5.25) scale(1,.8)"/><use href="#kS" transform="translate(62,-13.65) scale(1,1)"/>
<use href="#kA" transform="translate(68.2,0) scale(1,3.9)"/>
<use href="#kW" transform="translate(74.4,0) scale(1,3.8)"/>
<use href="#kP" transform="translate(80.6,0) scale(1,1.6)"/><use href="#kA" transform="translate(80.6,-16.8) scale(1,1.4)"/>
<use href="#kN" transform="translate(86.8,0) scale(1,1.3)"/><use href="#kD" transform="translate(86.8,-13.65) scale(1,1.6)"/>
<use href="#kQ" transform="translate(93,0) scale(1,3.8)"/>
<use href="#kS" transform="translate(99.2,0) scale(1,1.2)"/><use href="#kR" transform="translate(99.2,-12.6) scale(1,1.6)"/>
<use href="#kS" transform="translate(105.4,0) scale(1,3.8)"/>
<use href="#kP" transform="translate(111.6,0) scale(1,3.8)"/>
<use href="#kW" transform="translate(117.8,0) scale(1,3.8)"/>
<use href="#kT" transform="translate(124,0) scale(1,3.6)"/>
<use href="#kT" transform="translate(130.2,0) scale(1,1.2)"/><use href="#kN" transform="translate(130.2,-12.6) scale(1,2)"/>
<use href="#kG" transform="translate(136.4,0) scale(1,3.8)"/>
<use href="#kR" transform="translate(142.6,0) scale(1,.5)"/><use href="#kE" transform="translate(142.6,-5.25) scale(1,2.5)"/>
<use href="#kR" transform="translate(148.8,0) scale(1,3.8)"/>
<use href="#kP" transform="translate(155,0) scale(1,3.8)"/>
<use href="#kH" transform="translate(161.2,0) scale(1,1.6)"/><use href="#kE" transform="translate(161.2,-16.8) scale(1,1.6)"/>
<use href="#kL" transform="translate(167.4,0) scale(1,.8)"/><use href="#kV" transform="translate(167.4,-8.4) scale(1,.6)"/><use href="#kF" transform="translate(167.4,-14.7) scale(1,1.2)"/>
<use href="#kF" transform="translate(173.6,0) scale(1,.6)"/><use href="#kN" transform="translate(173.6,-6.3) scale(1,.8)"/><use href="#kD" transform="translate(173.6,-14.7) scale(1,1)"/>
<use href="#kS" transform="translate(179.8,0) scale(1,.6)"/><use href="#kF" transform="translate(179.8,-6.3) scale(1,.6)"/><use href="#kP" transform="translate(179.8,-12.6) scale(1,1)"/>
<use href="#kD" transform="translate(186,0) scale(1,1.3)"/><use href="#kN" transform="translate(186,-13.65) scale(1,1.8)"/>
<use href="#kD" transform="translate(192.2,0) scale(1,3.8)"/>
<use href="#kC" transform="translate(198.4,0) scale(1,3.8)"/>
<use href="#kW" transform="translate(204.6,0) scale(1,3.8)"/>
<use href="#kP" transform="translate(210.8,0) scale(1,3.8)"/>
</g>

<g id="logo-motif6" transform="translate(603.3,707.5) scale(.974,1.02)">
<use href="#kP" transform="scale(1,.3)"/><use href="#kK" transform="translate(0,-3.15) scale(1,.3)"/><use href="#kM" transform="translate(0,-6.3) scale(1,.4)"/>
<use href="#kR" transform="translate(6.2,0) scale(1,.3)"/><use href="#kY" transform="translate(6.2,-3.15) scale(1,.3)"/><use href="#kQ" transform="translate(6.2,-6.3) scale(1,.4)"/>
<use href="#kS" transform="translate(12.4,0) scale(1,.3)"/><use href="#kA" transform="translate(12.4,-3.15) scale(1,.4)"/><use href="#kN" transform="translate(12.4,-7.35) scale(1,.8)"/>
<use href="#kF" transform="translate(18.6,0) scale(1,.3)"/><use href="#kE" transform="translate(18.6,-3.15) scale(1,.5)"/><use href="#kH" transform="translate(18.6,-8.4) scale(1,1.1)"/>
<use href="#kN" transform="translate(24.8,0) scale(1,.3)"/><use href="#kE" transform="translate(24.8,-3.15) scale(1,.5)"/><use href="#kH" transform="translate(24.8,-8.4) scale(1,1.3)"/>
<use href="#kP" transform="translate(31,0) scale(1,.3)"/><use href="#kS" transform="translate(31,-3.15) scale(1,.5)"/><use href="#kL" transform="translate(31,-8.4) scale(1,.6)"/>
<use href="#kG" transform="translate(37.2,0) scale(1,.4)"/><use href="#kV" transform="translate(37.2,-4.2) scale(1,.5)"/><use href="#kA" transform="translate(37.2,-9.45) scale(1,.4)"/>
<use href="#kF" transform="translate(43.4,0) scale(1,.3)"/><use href="#kV" transform="translate(43.4,-3.15) scale(1,.5)"/><use href="#kP" transform="translate(43.4,-8.4) scale(1,1.2)"/>
<use href="#kY" transform="translate(49.6,0) scale(1,.3)"/><use href="#kQ" transform="translate(49.6,-3.15) scale(1,.7)"/><use href="#kE" transform="translate(49.6,-10.5) scale(1,.8)"/>
<use href="#kT" transform="translate(55.8,0) scale(1,.3)"/><use href="#kP" transform="translate(55.8,-3.15) scale(1,.5)"/><use href="#kL" transform="translate(55.8,-8.4) scale(1,1.2)"/>
<use href="#kG" transform="translate(62,0) scale(1,.3)"/><use href="#kS" transform="translate(62,-3.15) scale(1,.4)"/><use href="#kE" transform="translate(62,-7.35) scale(1,.9)"/>
<use href="#kS" transform="translate(68.2,0) scale(1,.4)"/><use href="#kE" transform="translate(68.2,-4.2) scale(1,.6)"/><use href="#kM" transform="translate(68.2,-10.5) scale(1,.7)"/>
<use href="#kA" transform="translate(74.4,0) scale(1,.4)"/><use href="#kE" transform="translate(74.4,-4.2) scale(1,2.8)"/>
<use href="#kD" transform="translate(80.6,0) scale(1,.4)"/><use href="#kS" transform="translate(80.6,-4.2) scale(1,.4)"/><use href="#kA" transform="translate(80.6,-8.4) scale(1,.5)"/>
<use href="#kS" transform="translate(86.8,0) scale(1,.3)"/><use href="#kC" transform="translate(86.8,-3.15) scale(1,.5)"/><use href="#kE" transform="translate(86.8,-8.4) scale(1,1.6)"/>
<use href="#kD" transform="translate(93,0) scale(1,.4)"/><use href="#kA" transform="translate(93,-4.2) scale(1,2.2)"/>
<use href="#kA" transform="translate(99.2,0) scale(1,.3)"/><use href="#kS" transform="translate(99.2,-3.15) scale(1,.6)"/><use href="#kF" transform="translate(99.2,-9.45) scale(1,.5)"/>
<use href="#kS" transform="translate(105.4,0) scale(1,.5)"/><use href="#kN" transform="translate(105.4,-5.25) scale(1,2.2)"/>
<use href="#kT" transform="translate(111.6,0) scale(1,.6)"/><use href="#kW" transform="translate(111.6,-6.3) scale(1,1.7)"/>
<use href="#kI" transform="translate(117.8,0) scale(1,.5)"/><use href="#kC" transform="translate(117.8,-5.25) scale(1,.5)"/>
<use href="#kY" transform="translate(124,0) scale(1,.3)"/><use href="#kF" transform="translate(124,-3.15) scale(1,.4)"/><use href="#kL" transform="translate(124,-7.35) scale(1,.6)"/>
<use href="#kE" transform="translate(130.2,0) scale(1,.4)"/><use href="#kP" transform="translate(130.2,-4.2) scale(1,.4)"/><use href="#kD" transform="translate(130.2,-8.4) scale(1,.5)"/>
<use href="#kA" transform="translate(136.4,0) scale(1,.3)"/><use href="#kY" transform="translate(136.4,-3.15) scale(1,.6)"/><use href="#kT" transform="translate(136.4,-9.45) scale(1,1.2)"/>
<use href="#kE" transform="translate(142.6,0) scale(1,.3)"/><use href="#kG" transform="translate(142.6,-3.15) scale(1,.4)"/><use href="#kP" transform="translate(142.6,-7.35) scale(1,1.3)"/>
</g>

<g id="logo-motif7" transform="translate(605,780) scale(1,1.067)">
<use href="#kT" transform="scale(1,.8)"/><use href="#kS" transform="translate(0,-8.4) scale(1,1.9)"/>
<use href="#kA" transform="translate(6.2,0) scale(1,.8)"/><use href="#kV" transform="translate(6.2,-8.4) scale(1,1.9)"/>
<use href="#kQ" transform="translate(12.4,0) scale(1,.6)"/><use href="#kS" transform="translate(12.4,-6.3) scale(1,2.1)"/>
<use href="#kQ" transform="translate(18.6,0) scale(1,.7)"/><use href="#kS" transform="translate(18.6,-7.35) scale(1,.9)"/>
<use href="#kS" transform="translate(24.8,0) scale(1,.7)"/><use href="#kP" transform="translate(24.8,-7.35) scale(1,2)"/>
<use href="#kL" transform="translate(31,0) scale(1,.6)"/><use href="#kS" transform="translate(31,-6.3) scale(1,2.1)"/>
<use href="#kM" transform="translate(37.2,0) scale(1,.6)"/><use href="#kW" transform="translate(37.2,-6.3) scale(1,2)"/>
<use href="#kR" transform="translate(43.4,0) scale(1,.5)"/><use href="#kE" transform="translate(43.4,-5.25) scale(1,.5)"/><use href="#kH" transform="translate(43.4,-10.5) scale(1,.7)"/>
<use href="#kR" transform="translate(49.6,0) scale(1,.6)"/><use href="#kV" transform="translate(49.6,-6.3) scale(1,.8)"/>
<use href="#kG" transform="translate(55.8,0) scale(1,3.6)"/>
<use href="#kV" transform="translate(62,0) scale(1,.6)"/><use href="#kF" transform="translate(62,-6.3) scale(1,2.1)"/>
<use href="#kV" transform="translate(68.2,0) scale(1,.6)"/><use href="#kT" transform="translate(68.2,-6.3) scale(1,2.1)"/>
<use href="#kP" transform="translate(74.4,0) scale(1,.6)"/><use href="#kR" transform="translate(74.4,-6.3) scale(1,2.1)"/>
<use href="#kD" transform="translate(80.6,0) scale(1,.6)"/><use href="#kK" transform="translate(80.6,-6.3) scale(1,2.1)"/>
<use href="#kR" transform="translate(86.8,0) scale(1,.6)"/><use href="#kA" transform="translate(86.8,-6.3) scale(1,2.1)"/>
<use href="#kL" transform="translate(93,0) scale(1,.6)"/><use href="#kR" transform="translate(93,-6.3) scale(1,2.1)"/>
<use href="#kT" transform="translate(99.2,0) scale(1,3.9)"/>
<use href="#kM" transform="translate(105.4,0) scale(1,.6)"/><use href="#kP" transform="translate(105.4,-6.3) scale(1,2.1)"/>
<use href="#kA" transform="translate(111.6,0) scale(1,.6)"/><use href="#kR" transform="translate(111.6,-6.3) scale(1,2.1)"/>
<use href="#kD" transform="translate(117.8,0) scale(1,.6)"/><use href="#kN" transform="translate(117.8,-6.3) scale(1,2.1)"/>
<use href="#kV" transform="translate(124,0) scale(1,.6)"/><use href="#kG" transform="translate(124,-6.3) scale(1,2.1)"/>
<use href="#kS" transform="translate(130.2,0) scale(1,.6)"/><use href="#kK" transform="translate(130.2,-6.3) scale(1,1.1)"/>
<use href="#kN" transform="translate(136.4,0) scale(1,2.7)"/>
<use href="#kK" transform="translate(142.6,0) scale(1,.5)"/><use href="#kT" transform="translate(142.6,-5.25) scale(1,.9)"/>
<use href="#kE" transform="translate(148.8,0) scale(1,.5)"/><use href="#kS" transform="translate(148.8,-5.25) scale(1,1.1)"/>
<use href="#kK" transform="translate(155,0) scale(1,.5)"/><use href="#kV" transform="translate(155,-5.25) scale(1,1)"/>
<use href="#kQ" transform="translate(161.2,0) scale(1,.6)"/><use href="#kR" transform="translate(161.2,-6.3) scale(1,.7)"/>
<use href="#kI" transform="translate(167.4,0) scale(1,.4)"/><use href="#kN" transform="translate(167.4,-4.2) scale(1,.8)"/>
</g>

<g id="logo-motif8" transform="translate(603.3,846) scale(.986,1)">
<use href="#kA" transform="scale(1,.4)"/><use href="#kE" transform="translate(0,-4.2) scale(1,.6)"/><use href="#kN" transform="translate(0,-10.5) scale(1,1.5)"/>
<use href="#kS" transform="translate(6.2,0) scale(1,.4)"/><use href="#kT" transform="translate(6.2,-4.2) scale(1,.3)"/><use href="#kN" transform="translate(6.2,-7.35) scale(1,.6)"/>
<use href="#kC" transform="translate(12.4,0) scale(1,.4)"/><use href="#kS" transform="translate(12.4,-4.2) scale(1,.4)"/><use href="#kQ" transform="translate(12.4,-8.4) scale(1,.4)"/>
<use href="#kN" transform="translate(18.6,0) scale(1,.5)"/><use href="#kE" transform="translate(18.6,-5.25) scale(1,.5)"/><use href="#kD" transform="translate(18.6,-10.5) scale(1,1)"/>
<use href="#kD" transform="translate(24.8,0) scale(1,.4)"/><use href="#kN" transform="translate(24.8,-4.2) scale(1,.5)"/><use href="#kE" transform="translate(24.8,-9.45) scale(1,.8)"/>
<use href="#kY" transform="translate(31,0) scale(1,.4)"/><use href="#kE" transform="translate(31,-4.2) scale(1,.5)"/><use href="#kN" transform="translate(31,-9.45) scale(1,1.3)"/>
<use href="#kN" transform="translate(37.2,0) scale(1,.4)"/><use href="#kK" transform="translate(37.2,-4.2) scale(1,.4)"/><use href="#kE" transform="translate(37.2,-8.4) scale(1,1.3)"/>
<use href="#kY" transform="translate(43.4,0) scale(1,.5)"/><use href="#kE" transform="translate(43.4,-5.25) scale(1,1.5)"/>
<use href="#kC" transform="translate(49.6,0) scale(1,.4)"/><use href="#kS" transform="translate(49.6,-4.2) scale(1,.5)"/><use href="#kQ" transform="translate(49.6,-9.45) scale(1,1)"/>
<use href="#kM" transform="translate(55.8,0) scale(1,.4)"/><use href="#kA" transform="translate(55.8,-4.2) scale(1,.5)"/><use href="#kL" transform="translate(55.8,-9.45) scale(1,.8)"/>
<use href="#kF" transform="translate(62,0) scale(1,.5)"/><use href="#kS" transform="translate(62,-5.25) scale(1,.4)"/><use href="#kL" transform="translate(62,-9.45) scale(1,1.3)"/>
<use href="#kE" transform="translate(68.2,0) scale(1,.5)"/><use href="#kL" transform="translate(68.2,-5.25) scale(1,.6)"/><use href="#kY" transform="translate(68.2,-11.55) scale(1,2.1)"/>
<use href="#kG" transform="translate(74.4,0) scale(1,.5)"/><use href="#kL" transform="translate(74.4,-5.25) scale(1,.8)"/><use href="#kR" transform="translate(74.4,-13.65) scale(1,.9)"/>
<use href="#kC" transform="translate(80.6,0) scale(1,.5)"/><use href="#kF" transform="translate(80.6,-5.25) scale(1,.7)"/><use href="#kV" transform="translate(80.6,-12.6) scale(1,.8)"/>
<use href="#kS" transform="translate(86.8,0) scale(1,.5)"/><use href="#kD" transform="translate(86.8,-5.25) scale(1,.5)"/><use href="#kP" transform="translate(86.8,-10.5) scale(1,.9)"/>
<use href="#kM" transform="translate(93,0) scale(1,.4)"/><use href="#kF" transform="translate(93,-4.2) scale(1,.7)"/><use href="#kV" transform="translate(93,-11.55) scale(1,.9)"/>
<use href="#kF" transform="translate(99.2,0) scale(1,.6)"/><use href="#kD" transform="translate(99.2,-6.3) scale(1,.6)"/><use href="#kV" transform="translate(99.2,-12.6) scale(1,1)"/>
<use href="#kD" transform="translate(105.4,0) scale(1,3.8)"/>
<use href="#kS" transform="translate(111.6,0) scale(1,.5)"/><use href="#kF" transform="translate(111.6,-5.25) scale(1,.7)"/><use href="#kP" transform="translate(111.6,-12.6) scale(1,1.4)"/>
<use href="#kE" transform="translate(117.8,0) scale(1,.5)"/><use href="#kF" transform="translate(117.8,-5.25) scale(1,.9)"/><use href="#kY" transform="translate(117.8,-14.7) scale(1,1.4)"/>
<use href="#kE" transform="translate(124,0) scale(1,.4)"/><use href="#kA" transform="translate(124,-4.2) scale(1,.5)"/><use href="#kL" transform="translate(124,-9.45) scale(1,1.1)"/>
<use href="#kL" transform="translate(130.2,0) scale(1,.5)"/><use href="#kE" transform="translate(130.2,-5.25) scale(1,.6)"/><use href="#kD" transform="translate(130.2,-11.55) scale(1,.9)"/>
<use href="#kA" transform="translate(136.4,0) scale(1,.5)"/><use href="#kE" transform="translate(136.4,-5.25) scale(1,.5)"/><use href="#kM" transform="translate(136.4,-10.5) scale(1,1.2)"/>
<use href="#kM" transform="translate(142.6,0) scale(1,.5)"/><use href="#kF" transform="translate(142.6,-5.25) scale(1,.4)"/><use href="#kD" transform="translate(142.6,-9.45) scale(1,1.2)"/>
<use href="#kS" transform="translate(148.8,0) scale(1,.5)"/><use href="#kY" transform="translate(148.8,-5.25) scale(1,.5)"/><use href="#kC" transform="translate(148.8,-10.5) scale(1,.6)"/>
<use href="#kT" transform="translate(155,0) scale(1,.5)"/><use href="#kS" transform="translate(155,-5.25) scale(1,.4)"/><use href="#kI" transform="translate(155,-9.45) scale(1,.4)"/>
<use href="#kT" transform="translate(161.2,0) scale(1,.5)"/><use href="#kS" transform="translate(161.2,-5.25) scale(1,.4)"/><use href="#kG" transform="translate(161.2,-9.45) scale(1,.6)"/>
</g>

<g id="logo-motif9" transform="translate(603,919) scale(1,1.076)">
<use href="#kN" transform="scale(1,.8)"/><use href="#kD" transform="translate(0,-8.4) scale(1,2.5)"/>
<use href="#kQ" transform="translate(6.2,0) scale(1,3.5)"/>
<use href="#kQ" transform="translate(12.4,0) scale(1,.8)"/><use href="#kK" transform="translate(12.4,-8.4) scale(1,1.8)"/>
<use href="#kS" transform="translate(18.6,0) scale(1,.3)"/><use href="#kQ" transform="translate(18.6,-3.15) scale(1,.6)"/><use href="#kP" transform="translate(18.6,-9.45) scale(1,.9)"/>
<use href="#kH" transform="translate(24.8,0) scale(1,.5)"/><use href="#kC" transform="translate(24.8,-5.25) scale(1,.5)"/><use href="#kQ" transform="translate(24.8,-10.5) scale(1,.7)"/>
<use href="#kD" transform="translate(31,0) scale(1,.8)"/><use href="#kT" transform="translate(31,-8.4) scale(1,.4)"/><use href="#kN" transform="translate(31,-12.6) scale(1,.9)"/>
<use href="#kI" transform="translate(37.2,0) scale(1,.8)"/><use href="#kY" transform="translate(37.2,-8.4) scale(1,.9)"/>
<use href="#kI" transform="translate(43.4,0) scale(1,.9)"/><use href="#kS" transform="translate(43.4,-9.45) scale(1,1.1)"/>
<use href="#kL" transform="translate(49.6,0) scale(1,.9)"/><use href="#kQ" transform="translate(49.6,-9.45) scale(1,2.3)"/>
<use href="#kV" transform="translate(55.8,0) scale(1,.8)"/><use href="#kL" transform="translate(55.8,-8.4) scale(1,2.2)"/>
<use href="#kP" transform="translate(62,0) scale(1,.8)"/><use href="#kH" transform="translate(62,-8.4) scale(1,2.2)"/>
<use href="#kQ" transform="translate(68.2,0) scale(1,.8)"/><use href="#kY" transform="translate(68.2,-8.4) scale(1,.4)"/><use href="#kK" transform="translate(68.2,-12.6) scale(1,1)"/>
<use href="#kE" transform="translate(74.4,0) scale(1,.4)"/><use href="#kN" transform="translate(74.4,-4.2) scale(1,.8)"/><use href="#kQ" transform="translate(74.4,-12.6) scale(1,1.6)"/>
<use href="#kE" transform="translate(80.6,0) scale(1,.7)"/><use href="#kY" transform="translate(80.6,-7.35) scale(1,2)"/>
<use href="#kS" transform="translate(86.8,0) scale(1,.5)"/><use href="#kY" transform="translate(86.8,-5.25) scale(1,.4)"/><use href="#kG" transform="translate(86.8,-9.45) scale(1,.9)"/>
<use href="#kS" transform="translate(93,0) scale(1,.5)"/><use href="#kK" transform="translate(93,-5.25) scale(1,.6)"/><use href="#kG" transform="translate(93,-11.55) scale(1,.9)"/>
<use href="#kD" transform="translate(99.2,0) scale(1,3.8)"/>
<use href="#kG" transform="translate(105.4,0) scale(1,.7)"/><use href="#kD" transform="translate(105.4,-7.35) scale(1,.9)"/><use href="#kS" transform="translate(105.4,-16.8) scale(1,.9)"/>
<use href="#kC" transform="translate(111.6,0) scale(1,.9)"/><use href="#kV" transform="translate(111.6,-9.45) scale(1,2.2)"/>
<use href="#kV" transform="translate(117.8,0) scale(1,3.5)"/>
<use href="#kV" transform="translate(124,0) scale(1,.9)"/><use href="#kP" transform="translate(124,-9.45) scale(1,2.6)"/>
</g>

<g id="logo-motif10" transform="translate(606.7,985.5) scale(1.095,1.048)">
<use href="#kE" transform="scale(1,.4)"/><use href="#kA" transform="translate(0,-4.2) scale(1,.4)"/><use href="#kI" transform="translate(0,-8.4) scale(1,.5)"/>
<use href="#kS" transform="translate(6.2,0) scale(1,.5)"/><use href="#kA" transform="translate(6.2,-5.25) scale(1,.6)"/><use href="#kL" transform="translate(6.2,-11.55) scale(1,.8)"/>
<use href="#kS" transform="translate(12.4,0) scale(1,.4)"/><use href="#kE" transform="translate(12.4,-4.2) scale(1,.5)"/><use href="#kA" transform="translate(12.4,-9.45) scale(1,1)"/>
<use href="#kN" transform="translate(18.6,0) scale(1,.3)"/><use href="#kS" transform="translate(18.6,-3.15) scale(1,.6)"/><use href="#kA" transform="translate(18.6,-9.45) scale(1,.9)"/>
<use href="#kD" transform="translate(24.8,0) scale(1,3.8)"/>
<use href="#kR" transform="translate(31,0) scale(1,.2)"/><use href="#kS" transform="translate(31,-2.1) scale(1,.6)"/><use href="#kA" transform="translate(31,-8.4) scale(1,2.1)"/>
<use href="#kR" transform="translate(37.2,0) scale(1,.3)"/><use href="#kS" transform="translate(37.2,-3.15) scale(1,3)"/>
<use href="#kY" transform="translate(43.4,0) scale(1,3.6)"/>
<use href="#kG" transform="translate(49.6,0) scale(1,3.8)"/>
<use href="#kI" transform="translate(55.8,0) scale(1,.9)"/><use href="#kV" transform="translate(55.8,-9.45) scale(1,1)"/>
<use href="#kV" transform="translate(62,0) scale(1,3.5)"/>
<use href="#kP" transform="translate(68.2,0) scale(1,3.4)"/>
<use href="#kS" transform="translate(74.4,0) scale(1,3.4)"/>
<use href="#kF" transform="translate(80.6,0) scale(1,3.6)"/>
</g>
</svg>
